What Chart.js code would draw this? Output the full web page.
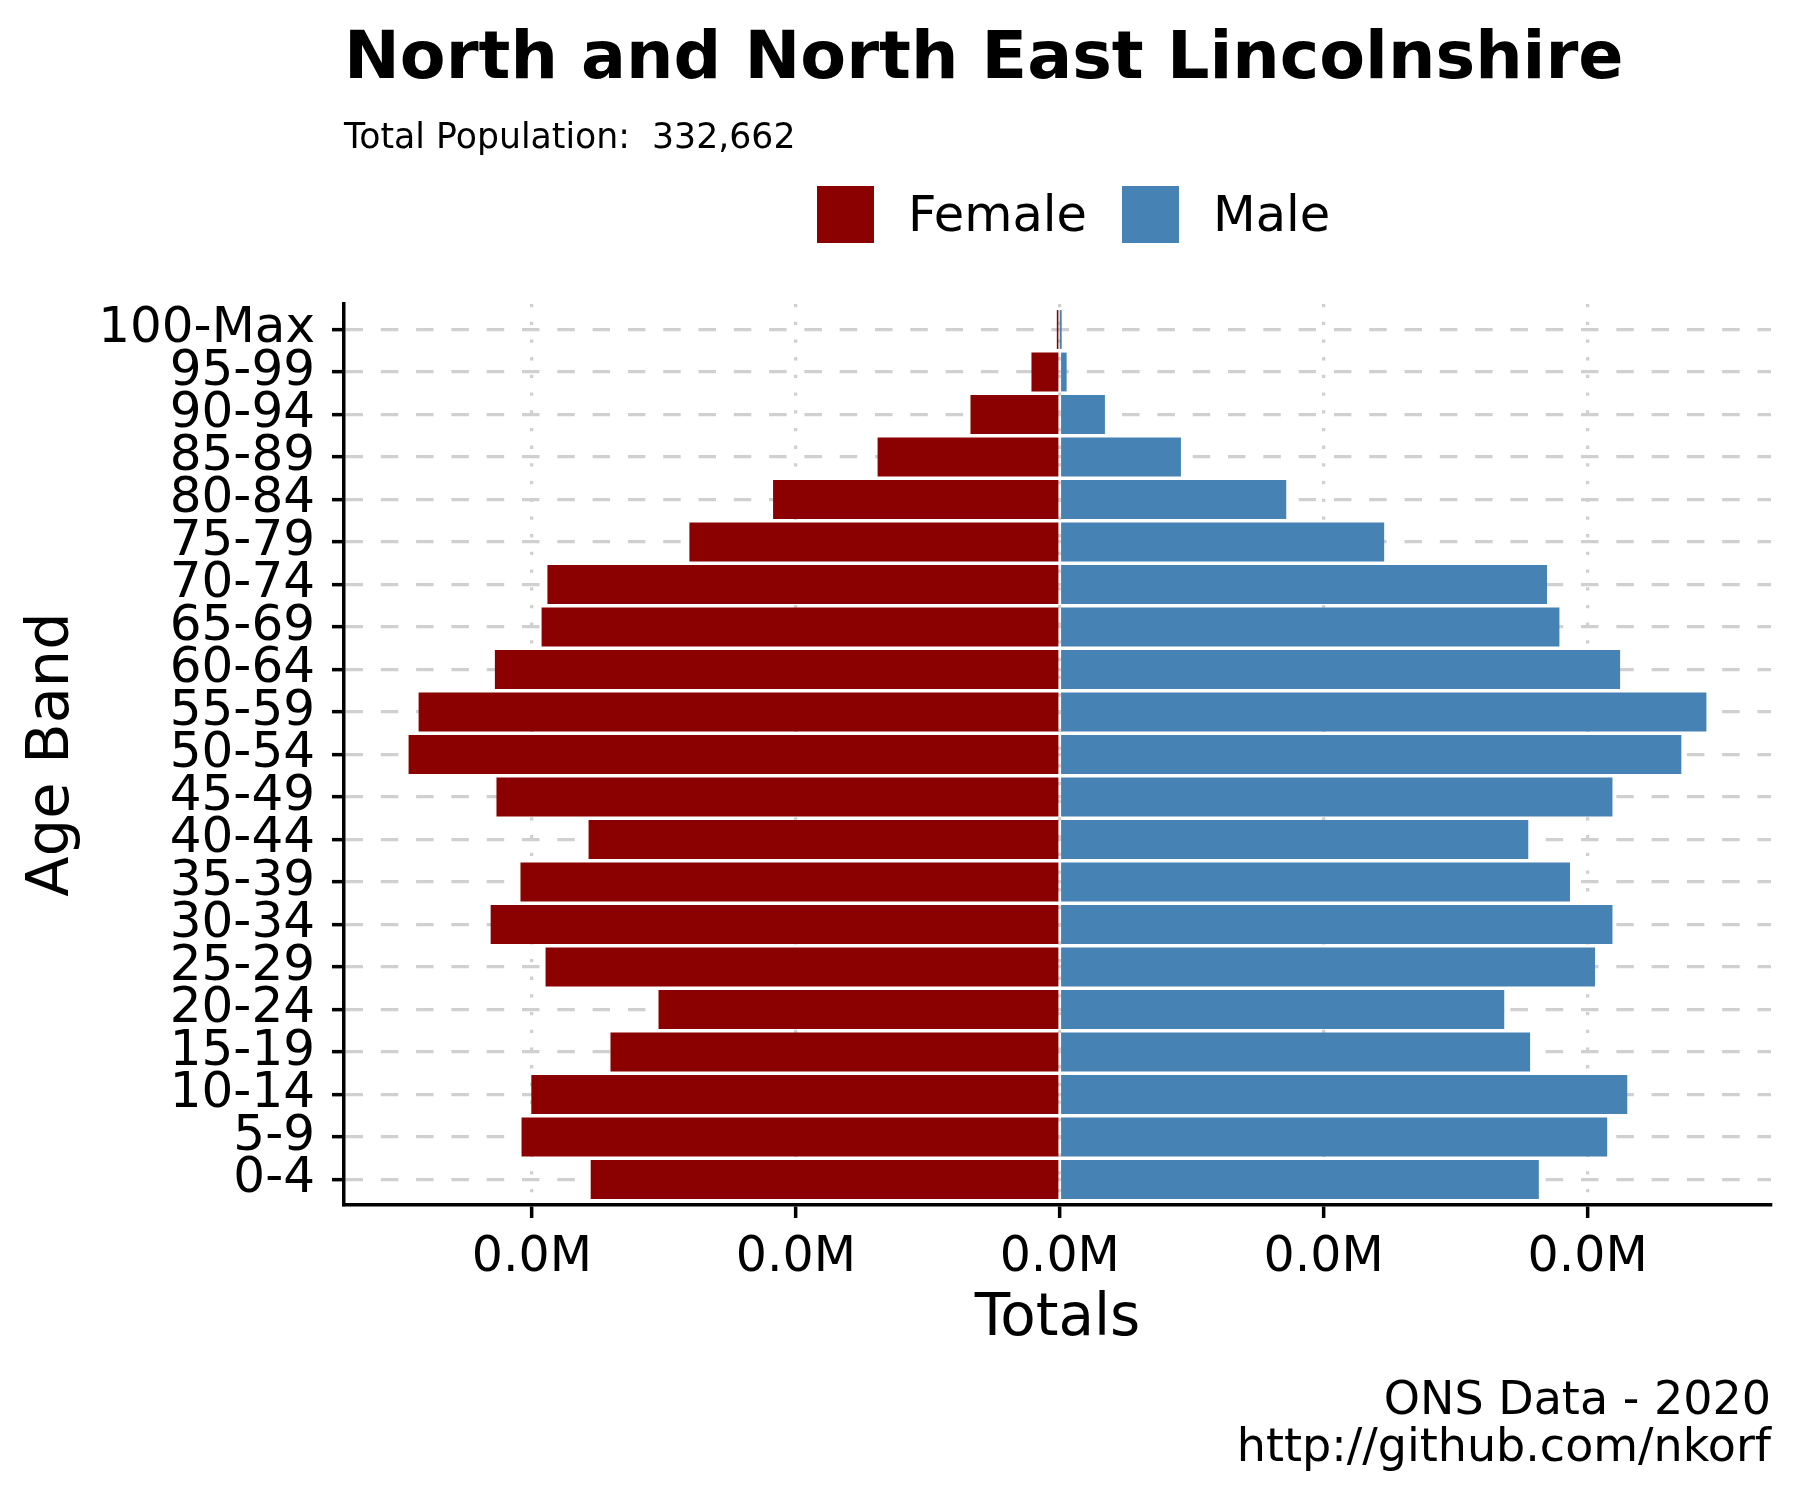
<!DOCTYPE html>
<html>
<head>
<meta charset="utf-8">
<script src="https://cdn.jsdelivr.net/npm/chart.js@4.4.1/dist/chart.umd.min.js"></script>
<style>
html, body { margin: 0; padding: 0; background: #ffffff; }
#wrap { width: 1800px; height: 1500px; }
</style>
</head>
<body>
<div id="wrap"><canvas id="c" width="1800" height="1500"></canvas></div>
<script>
// ---- Data ----
const ageBands = ['0-4', '5-9', '10-14', '15-19', '20-24', '25-29', '30-34', '35-39', '40-44', '45-49',
                  '50-54', '55-59', '60-64', '65-69', '70-74', '75-79', '80-84', '85-89', '90-94', '95-99', '100-Max'];
const femaleValues = [8880, 10190, 10005, 8505, 7595, 9735, 10775, 10210, 8920, 10665,
                      12330, 12140, 10695, 9810, 9700, 7010, 5425, 3445, 1685, 530, 50];
const maleValues = [9070, 10365, 10745, 8905, 8415, 10135, 10465, 9660, 8870, 10465,
                    11770, 12245, 10610, 9460, 9225, 6140, 4285, 2290, 850, 125, 5];
const xTickValues = [-10000, -5000, 0, 5000, 10000];
const xMin = -13559;
const xMax = 13474;
const seriesNames = ['Female', 'Male'];
const seriesColors = ['#8B0000', '#4682B4'];
const chartTitle = 'North and North East Lincolnshire';
const totalPopulation = 332662;
const subtitleText = 'Total Population:  ' + totalPopulation.toLocaleString('en-GB');
const captionLines = ['ONS Data - 2020', 'http://github.com/nkorf'];
const xAxisTitle = 'Totals';
const yAxisTitle = 'Age Band';

const FONT = '"DejaVu Sans", "Liberation Sans", sans-serif';
Chart.defaults.font.family = FONT;
Chart.defaults.color = '#000000';

const decorPlugin = {
  id: 'decor',
  afterDraw(chart) {
    const ctx = chart.ctx;
    const ca = chart.chartArea;
    ctx.save();
    ctx.fillStyle = '#000000';
    ctx.textAlign = 'left';
    ctx.textBaseline = 'alphabetic';
    ctx.font = 'bold 66.7px ' + FONT;
    ctx.fillText(chartTitle, ca.left, 78);
    ctx.font = '34.7px ' + FONT;
    ctx.fillText(subtitleText, ca.left, 148);

    // legend
    ctx.font = '49.5px ' + FONT;
    ctx.textBaseline = 'middle';
    const boxSize = 57, gapBoxText = 34, gapItems = 35;
    let x = 817;
    const boxTop = 186;
    chart.data.datasets.forEach((ds) => {
      ctx.fillStyle = ds.backgroundColor;
      ctx.fillRect(x, boxTop, boxSize, boxSize);
      x += boxSize + gapBoxText;
      ctx.fillStyle = '#000000';
      ctx.fillText(ds.label, x, boxTop + boxSize / 2 + 4);
      x += ctx.measureText(ds.label).width + gapItems;
    });

    // caption
    ctx.textAlign = 'right';
    ctx.textBaseline = 'alphabetic';
    ctx.font = '46px ' + FONT;
    captionLines.forEach((t, i) => ctx.fillText(t, 1771, 1414 + i * 47));
    ctx.restore();
  }
};

const femalePoints = femaleValues.map((v, i) => ({ x: -v, y: i }));
const malePoints = maleValues.map((v, i) => ({ x: v, y: i }));

const barStyle = (color) => ({
  backgroundColor: color,
  borderColor: color,
  borderWidth: 0,
  inflateAmount: 0.3,
  barPercentage: 0.9,
  categoryPercentage: 1.0
});

new Chart(document.getElementById('c'), {
  type: 'bar',
  data: {
    datasets: [
      Object.assign({ label: seriesNames[0], data: femalePoints }, barStyle(seriesColors[0])),
      Object.assign({ label: seriesNames[1], data: malePoints }, barStyle(seriesColors[1]))
    ]
  },
  options: {
    indexAxis: 'y',
    responsive: false,
    devicePixelRatio: 1,
    animation: false,
    layout: { padding: { top: 304, left: 0, right: 29, bottom: 0 } },
    plugins: {
      legend: { display: false },
      title: { display: false },
      tooltip: { enabled: false }
    },
    scales: {
      x: {
        type: 'linear',
        stacked: true,
        min: xMin,
        max: xMax,
        offset: false,
        afterBuildTicks: (axis) => { axis.ticks = xTickValues.map(v => ({ value: v })); },
        afterFit: (axis) => { axis.height = 295; },
        ticks: {
          font: { size: 49 },
          color: '#000000',
          padding: 11,
          maxRotation: 0,
          autoSkip: false,
          callback: (v) => (Math.abs(v) / 1e6).toFixed(1) + 'M'
        },
        grid: {
          z: -1,
          offset: false,
          color: '#d0d0d0',
          lineWidth: 3.3,
          tickColor: '#000000',
          tickWidth: 3.5,
          tickLength: 13,
          drawTicks: true
        },
        border: { display: true, color: '#000000', width: 3.5, dash: [3.3, 14.4] },
        title: { display: true, text: xAxisTitle, font: { size: 58 }, color: '#000000', padding: { top: 0, bottom: 145 } }
      },
      y: {
        type: 'linear',
        stacked: true,
        offset: false,
        min: -0.6,
        max: ageBands.length - 1 + 0.6,
        afterBuildTicks: (axis) => { axis.ticks = ageBands.map((_, i) => ({ value: i })); },
        afterFit: (axis) => { axis.width = 344; },
        ticks: {
          font: { size: 50 },
          color: '#000000',
          padding: 17,
          autoSkip: false,
          callback: (v) => ageBands[v]
        },
        grid: {
          z: -1,
          offset: false,
          color: '#d0d0d0',
          lineWidth: 3.3,
          tickColor: '#000000',
          tickWidth: 3.5,
          tickLength: 12
        },
        border: { display: true, color: '#000000', width: 3.5, dash: [17.5, 17.8] },
        title: { display: true, text: yAxisTitle, font: { size: 59 }, color: '#000000', padding: { top: 17, bottom: 0 } }
      }
    }
  },
  plugins: [decorPlugin]
});
</script>
</body>
</html>
